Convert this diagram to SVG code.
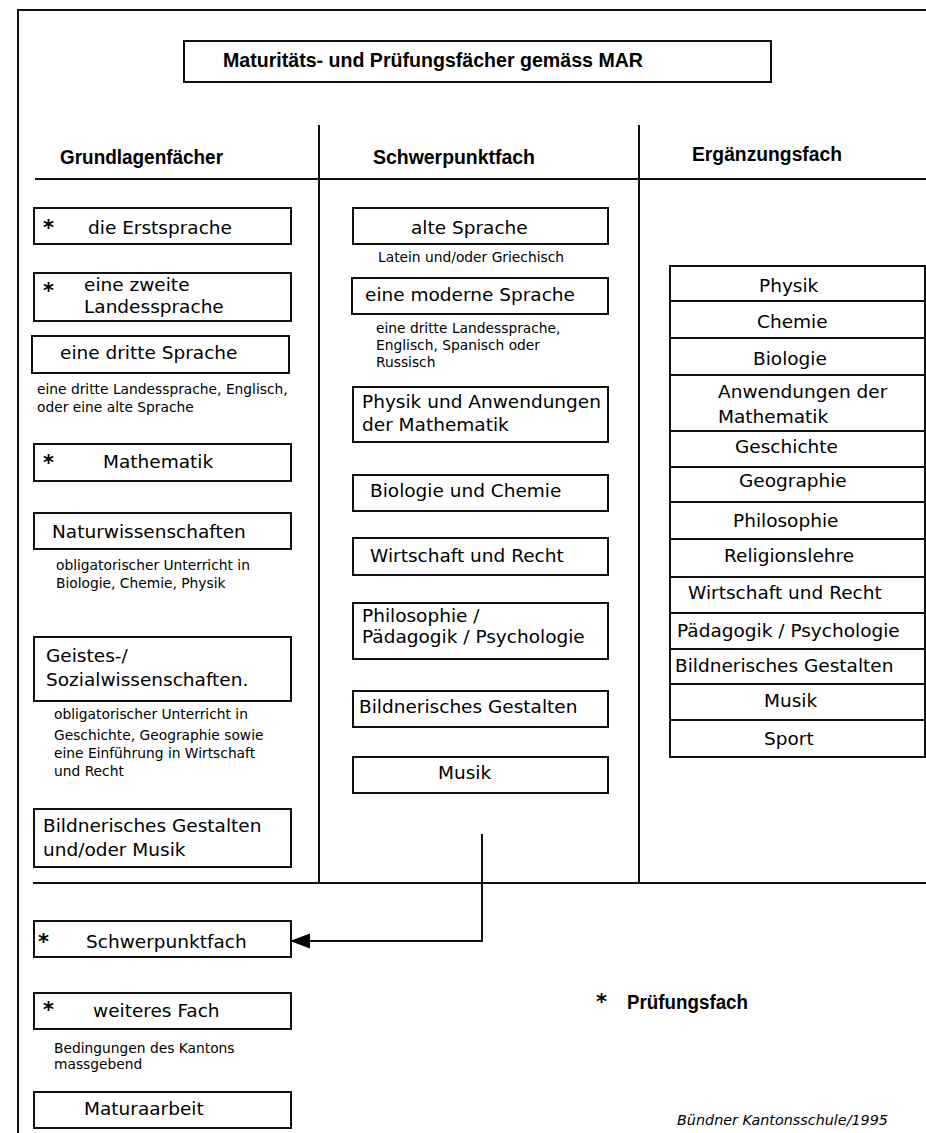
<svg xmlns="http://www.w3.org/2000/svg" width="926" height="1133" viewBox="0 0 926 1133">
<style>
.bg{fill:#fff}
.box{fill:#fff;stroke:#111;stroke-width:2}
.ln{stroke:#111;stroke-width:2;fill:none}
.t{font-family:"DejaVu Sans",Verdana,sans-serif;font-size:18.5px;fill:#000}
.s{font-family:"DejaVu Sans",Verdana,sans-serif;font-size:13.8px;fill:#000}
.h{font-family:"Liberation Sans",Arial,sans-serif;font-weight:bold;font-size:19.5px;fill:#000}
.a{font-family:"DejaVu Sans",Verdana,sans-serif;font-weight:bold;font-size:21px;fill:#000}
.i{font-family:"DejaVu Sans",Verdana,sans-serif;font-style:italic;font-size:14px;fill:#000}
</style>
<defs>
<marker id="arr" markerUnits="userSpaceOnUse" markerWidth="21" markerHeight="16" refX="20" refY="7.5" orient="auto">
<path d="M0,0 L20,7.5 L0,15 z" fill="#000"/>
</marker>
</defs>
<rect class="bg" x="0" y="0" width="926" height="1133"/>

<g id="frame">
<path class="ln" d="M18,1133 V10 H926"/>
<path class="ln" d="M35,179 H926"/>
<path class="ln" d="M33,883 H926"/>
<path class="ln" d="M319,125 V883"/>
<path class="ln" d="M639,125 V883"/>
</g>

<g id="title">
<rect class="box" x="184" y="41" width="587" height="41"/>
<text class="h" x="223" y="67" textLength="420" lengthAdjust="spacingAndGlyphs">Maturitäts- und Prüfungsfächer gemäss MAR</text>
</g>

<g id="headers">
<text class="h" x="60" y="164" textLength="163" lengthAdjust="spacingAndGlyphs">Grundlagenfächer</text>
<text class="h" x="373" y="164" textLength="162" lengthAdjust="spacingAndGlyphs">Schwerpunktfach</text>
<text class="h" x="692" y="161" textLength="150" lengthAdjust="spacingAndGlyphs">Ergänzungsfach</text>
</g>

<!-- Grundlagenfächer -->
<g id="gl-erstsprache">
<rect class="box" x="34" y="208" width="257" height="36"/>
<text class="a" x="43" y="235">*</text>
<text class="t" x="88" y="234">die Erstsprache</text>
</g>
<g id="gl-zweite">
<rect class="box" x="34" y="273" width="257" height="48"/>
<text class="a" x="43" y="298">*</text>
<text class="t" x="84" y="291">eine zweite</text>
<text class="t" x="84" y="313">Landessprache</text>
</g>
<g id="gl-dritte">
<rect class="box" x="32" y="336" width="257" height="37"/>
<text class="t" x="60" y="359">eine dritte Sprache</text>
<text class="s" x="37" y="394">eine dritte Landessprache, Englisch,</text>
<text class="s" x="37" y="412">oder eine alte Sprache</text>
</g>
<g id="gl-mathematik">
<rect class="box" x="34" y="444" width="257" height="37"/>
<text class="a" x="43" y="470">*</text>
<text class="t" x="103" y="468">Mathematik</text>
</g>
<g id="gl-natur">
<rect class="box" x="34" y="513" width="257" height="36"/>
<text class="t" x="52" y="538">Naturwissenschaften</text>
<text class="s" x="56" y="570">obligatorischer Unterricht in</text>
<text class="s" x="56" y="588">Biologie, Chemie, Physik</text>
</g>
<g id="gl-geistes">
<rect class="box" x="34" y="637" width="257" height="64"/>
<text class="t" x="46" y="662">Geistes-/</text>
<text class="t" x="46" y="686">Sozialwissenschaften.</text>
<text class="s" x="54" y="719">obligatorischer Unterricht in</text>
<text class="s" x="54" y="740">Geschichte, Geographie sowie</text>
<text class="s" x="54" y="758">eine Einführung in Wirtschaft</text>
<text class="s" x="54" y="776">und Recht</text>
</g>
<g id="gl-bildnerisch">
<rect class="box" x="34" y="809" width="257" height="58"/>
<text class="t" x="43" y="832">Bildnerisches Gestalten</text>
<text class="t" x="43" y="856">und/oder Musik</text>
</g>

<!-- Schwerpunktfach -->
<g id="sp-alte">
<rect class="box" x="353" y="208" width="255" height="36"/>
<text class="t" x="411" y="234">alte Sprache</text>
<text class="s" x="378" y="262">Latein und/oder Griechisch</text>
</g>
<g id="sp-moderne">
<rect class="box" x="352" y="278" width="256" height="36"/>
<text class="t" x="365" y="301">eine moderne Sprache</text>
<text class="s" x="376" y="333">eine dritte Landessprache,</text>
<text class="s" x="376" y="350">Englisch, Spanisch oder</text>
<text class="s" x="376" y="367">Russisch</text>
</g>
<g id="sp-physik">
<rect class="box" x="353" y="387" width="255" height="55"/>
<text class="t" x="362" y="408">Physik und Anwendungen</text>
<text class="t" x="362" y="431">der Mathematik</text>
</g>
<g id="sp-biologie">
<rect class="box" x="353" y="475" width="255" height="36"/>
<text class="t" x="370" y="497">Biologie und Chemie</text>
</g>
<g id="sp-wirtschaft">
<rect class="box" x="353" y="538" width="255" height="37"/>
<text class="t" x="370" y="562">Wirtschaft und Recht</text>
</g>
<g id="sp-philosophie">
<rect class="box" x="353" y="603" width="255" height="56"/>
<text class="t" x="362" y="622">Philosophie /</text>
<text class="t" x="362" y="643">Pädagogik / Psychologie</text>
</g>
<g id="sp-bildnerisch">
<rect class="box" x="353" y="691" width="255" height="36"/>
<text class="t" x="359" y="713">Bildnerisches Gestalten</text>
</g>
<g id="sp-musik">
<rect class="box" x="353" y="757" width="255" height="36"/>
<text class="t" x="438" y="779">Musik</text>
</g>

<!-- Ergänzungsfach -->
<g id="ef-table">
<rect class="box" x="670" y="266" width="255" height="491"/>
<path class="ln" d="M670,301 H926 M670,338 H926 M670,375 H926 M670,431 H926 M670,467 H926 M670,502 H926 M670,539 H926 M670,577 H926 M670,613 H926 M670,649 H926 M670,684 H926 M670,720 H926"/>
</g>
<g id="ef-physik"><text class="t" x="759" y="292">Physik</text></g>
<g id="ef-chemie"><text class="t" x="757" y="328">Chemie</text></g>
<g id="ef-biologie"><text class="t" x="753" y="365">Biologie</text></g>
<g id="ef-anwendungen"><text class="t" x="718" y="398">Anwendungen der</text><text class="t" x="718" y="423">Mathematik</text></g>
<g id="ef-geschichte"><text class="t" x="735" y="453">Geschichte</text></g>
<g id="ef-geographie"><text class="t" x="739" y="487">Geographie</text></g>
<g id="ef-philosophie"><text class="t" x="733" y="527">Philosophie</text></g>
<g id="ef-religion"><text class="t" x="724" y="562">Religionslehre</text></g>
<g id="ef-wirtschaft"><text class="t" x="688" y="599">Wirtschaft und Recht</text></g>
<g id="ef-paedagogik"><text class="t" x="677" y="637">Pädagogik / Psychologie</text></g>
<g id="ef-bildnerisch"><text class="t" x="675" y="672">Bildnerisches Gestalten</text></g>
<g id="ef-musik"><text class="t" x="764" y="707">Musik</text></g>
<g id="ef-sport"><text class="t" x="764" y="745">Sport</text></g>

<!-- bottom -->
<g id="b-schwerpunkt">
<rect class="box" x="34" y="921" width="257" height="36"/>
<text class="a" x="38" y="949">*</text>
<text class="t" x="86" y="948">Schwerpunktfach</text>
</g>
<g id="b-weiteres">
<rect class="box" x="34" y="993" width="257" height="36"/>
<text class="a" x="43" y="1017">*</text>
<text class="t" x="93" y="1017">weiteres Fach</text>
<text class="s" x="54" y="1053">Bedingungen des Kantons</text>
<text class="s" x="54" y="1069">massgebend</text>
</g>
<g id="b-matura">
<rect class="box" x="34" y="1092" width="257" height="36"/>
<text class="t" x="84" y="1115">Maturaarbeit</text>
</g>
<g id="legend">
<text class="a" x="596" y="1009">*</text>
<text class="h" x="627" y="1009" textLength="121" lengthAdjust="spacingAndGlyphs">Prüfungsfach</text>
</g>
<g id="credit">
<text class="i" x="677" y="1125" textLength="211" lengthAdjust="spacingAndGlyphs">Bündner Kantonsschule/1995</text>
</g>

<g id="connectors">
<path class="ln" d="M482,834 V941 H290" marker-end="url(#arr)"/>
</g>
</svg>
